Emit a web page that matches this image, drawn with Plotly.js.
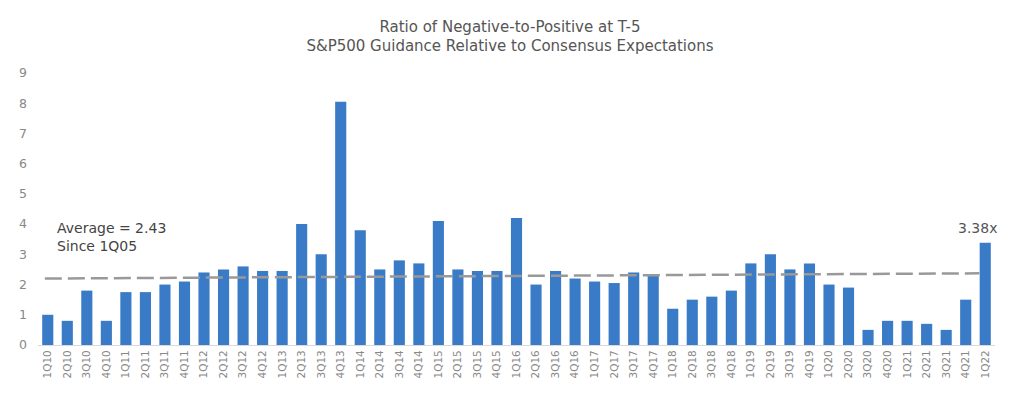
<!DOCTYPE html>
<html>
<head>
<meta charset="utf-8">
<script src="https://cdn.plot.ly/plotly-3.0.1.min.js"></script>
<style>html,body{margin:0;padding:0;background:#fff;}#chart{width:1020px;height:399px;}</style>
</head>
<body>
<div id="chart"></div>
<script>
const quarters = ["1Q10","2Q10","3Q10","4Q10","1Q11","2Q11","3Q11","4Q11","1Q12","2Q12","3Q12","4Q12",
"1Q13","2Q13","3Q13","4Q13","1Q14","2Q14","3Q14","4Q14","1Q15","2Q15","3Q15","4Q15",
"1Q16","2Q16","3Q16","4Q16","1Q17","2Q17","3Q17","4Q17","1Q18","2Q18","3Q18","4Q18",
"1Q19","2Q19","3Q19","4Q19","1Q20","2Q20","3Q20","4Q20","1Q21","2Q21","3Q21","4Q21","1Q22"];
const ratio = [1.0,0.8,1.8,0.8,1.75,1.75,2.0,2.1,2.4,2.5,2.6,2.45,
2.45,4.0,3.0,8.05,3.8,2.5,2.8,2.7,4.1,2.5,2.45,2.45,
4.2,2.0,2.45,2.2,2.1,2.05,2.4,2.3,1.2,1.5,1.6,1.8,
2.7,3.0,2.5,2.7,2.0,1.9,0.5,0.8,0.8,0.7,0.5,1.5,3.38];
const avgLineStartY = 2.2;
const avgLineEndY = 2.37;
const avgText = "Average = 2.43<br>Since 1Q05";
const lastText = "3.38x";

const font = "DejaVu Sans, Verdana, sans-serif";
const traces = [
  {type:"bar", x:quarters, y:ratio, marker:{color:"#3a7bc8"}, hoverinfo:"x+y"}
];
const layout = {
  width:1020, height:399,
  margin:{l:38, r:25, t:73, b:54},
  paper_bgcolor:"#fff", plot_bgcolor:"#fff",
  showlegend:false,
  bargap:0.43,
  font:{family:font, color:"#666"},
  title:{text:"Ratio of Negative-to-Positive at T-5<br>S&P500 Guidance Relative to Consensus Expectations",
         font:{family:font, size:15, color:"#555"}, x:0.5, xanchor:"center",
         yref:"container", y:0.92, yanchor:"middle", automargin:false},
  xaxis:{type:"category", tickangle:-90, tickfont:{size:10.5, color:"#888"}, showgrid:false,
         showline:true, linecolor:"#d9d9d9", linewidth:1, ticks:"", range:[-0.5,48.5], automargin:false},
  yaxis:{range:[0,9], dtick:1, tickfont:{size:12.5, color:"#888"}, showgrid:false, zeroline:false,
         showline:false, ticks:"", ticklabelstandoff:10, automargin:false},
  shapes:[
    {type:"line", xref:"x", yref:"y", x0:-0.15, x1:47.7, y0:avgLineStartY, y1:avgLineEndY,
     layer:"above", line:{color:"#999999", width:2.5, dash:"17px,6px"}}
  ],
  annotations:[
    {x:0, xref:"paper", xanchor:"left", y:3.57, yref:"y", yanchor:"middle", xshift:17,
     text:avgText, showarrow:false, align:"left", font:{family:font, size:14, color:"#444"}},
    {x:48, xref:"x", y:3.87, yref:"y", yanchor:"middle", xanchor:"center", xshift:-8,
     text:lastText, showarrow:false, font:{family:font, size:14, color:"#555"}}
  ]
};
Plotly.newPlot("chart", traces, layout, {staticPlot:true});
</script>
</body>
</html>
